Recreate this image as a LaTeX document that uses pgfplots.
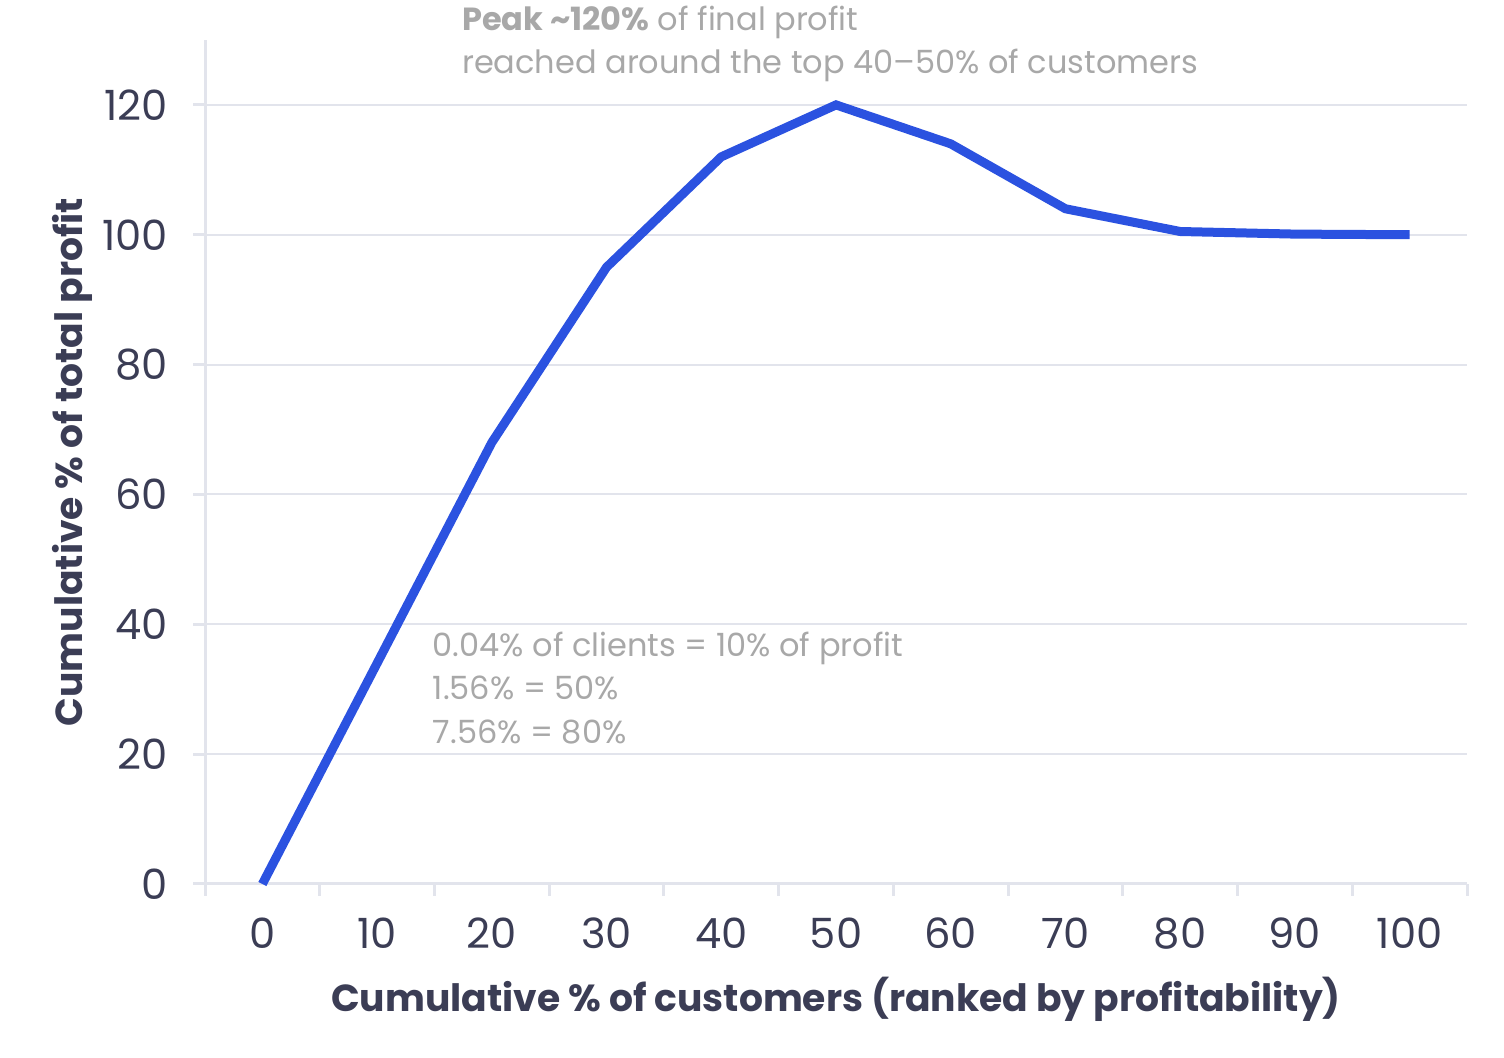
\documentclass[border=0pt]{standalone}
\usepackage{pgfplots}
\pgfplotsset{compat=1.18}
\usepackage{fontspec}
\setmainfont{Poppins}
\definecolor{txt}{HTML}{3B3D55}
\definecolor{gridc}{HTML}{E2E4EC}
\definecolor{lineblue}{HTML}{2B52E0}
\definecolor{note}{HTML}{A8A8A8}
\begin{document}
\begin{tikzpicture}
\useasboundingbox (0,0) rectangle (451.2pt,317.4pt);
\begin{axis}[
    at={(61.5pt,52.2pt)}, anchor=south west,
    scale only axis,
    width=378.6pt, height=253.2pt,
    xmin=-5, xmax=105,
    ymin=0, ymax=130,
    axis x line=bottom, axis y line=left,
    axis line style={-, gridc, line width=0.9pt},
    xtick={0,10,...,100},
    minor xtick={-5,5,...,105},
    ytick={0,20,...,120},
    tick align=outside,
    major x tick style={draw=none},
    minor x tick style={gridc, line width=0.9pt},
    major y tick style={gridc, line width=0.9pt},
    minor tick length=3.6pt,
    major tick length=3.6pt,
    ymajorgrids,
    grid style={gridc, line width=0.6pt},
    /pgf/number format/assume math mode=true,
    ticklabel style={font=\fontsize{12.5}{14}\selectfont, text=txt},
    xticklabel style={yshift=-3pt},
    yticklabel style={xshift=-4pt},
    xlabel={Cumulative \% of customers (ranked by profitability)},
    ylabel={Cumulative \% of total profit},
    label style={font=\fontsize{11.3}{14}\selectfont\bfseries, text=txt},
    xlabel style={yshift=-1.5pt},
    ylabel style={yshift=-4pt},
    clip=false,
]
\addplot[lineblue, line width=2.7pt] coordinates {
    (0,0)(10,34)(20,68)(30,95)(40,112)(50,120)(60,114)(70,104)(80,100.5)(90,100.1)(100,100)
};
\node[anchor=base west, inner sep=0, text=note, font=\fontsize{9.6}{12}\selectfont] at (axis cs:17.35,131.4) {\textbf{Peak \textasciitilde120\%} of final profit};
\node[anchor=base west, inner sep=0, text=note, font=\fontsize{9.6}{12}\selectfont] at (axis cs:17.35,124.8) {reached around the top 40--50\% of customers};
\node[anchor=base west, inner sep=0, text=note, font=\fontsize{9.6}{12}\selectfont] at (axis cs:14.8,35.0) {0.04\% of clients = 10\% of profit};
\node[anchor=base west, inner sep=0, text=note, font=\fontsize{9.6}{12}\selectfont] at (axis cs:14.8,28.4) {1.56\% = 50\%};
\node[anchor=base west, inner sep=0, text=note, font=\fontsize{9.6}{12}\selectfont] at (axis cs:14.8,21.7) {7.56\% = 80\%};
\end{axis}
\end{tikzpicture}
\end{document}
